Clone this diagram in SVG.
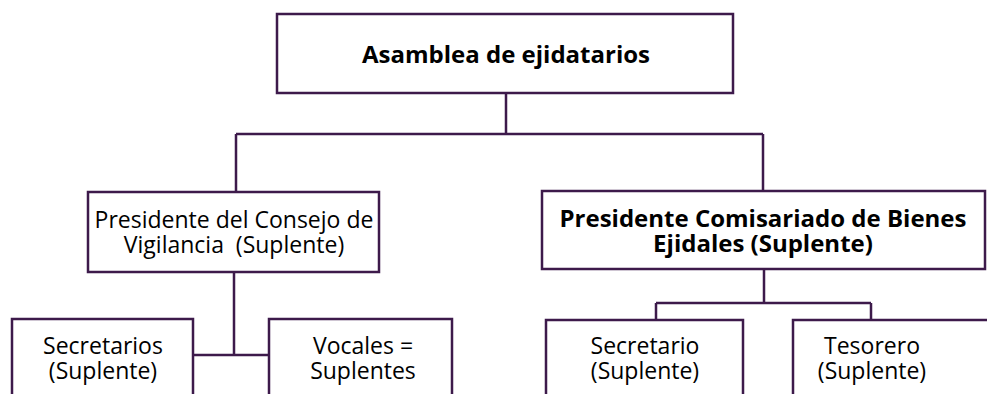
<svg xmlns="http://www.w3.org/2000/svg" width="987" height="394" viewBox="0 0 987 394">
<style>
.box{fill:#fff;stroke:#3d1a4b;stroke-width:2.5}
.ln{fill:none;stroke:#3d1a4b;stroke-width:2.5}
text{font-family:"Open Sans","Liberation Sans",sans-serif;fill:#000;text-anchor:middle;white-space:pre}
.r{font-size:23px}
.b{font-size:24px;font-weight:bold}
</style>
<rect width="987" height="394" fill="#fff"/>
<g id="connectors">
<path class="ln" d="M506,93V134M236,134H763M236,134V192M763,134V191"/>
<path class="ln" d="M234,272V355M193,355H269"/>
<path class="ln" d="M764,269V303M656,303H871M656,303V320M871,303V320"/>
</g>
<g id="asamblea">
<rect class="box" x="277" y="14" width="456" height="79"/>
<text class="b" x="506" y="63">Asamblea de ejidatarios</text>
</g>
<g id="consejo">
<rect class="box" x="88" y="192" width="291" height="80"/>
<text class="r" xml:space="preserve"><tspan x="234" y="228">Presidente del Consejo de</tspan><tspan x="234" y="253">Vigilancia  (Suplente)</tspan></text>
</g>
<g id="comisariado">
<rect class="box" x="542" y="191" width="443" height="78"/>
<text class="b"><tspan x="763" y="227">Presidente Comisariado de Bienes</tspan><tspan x="763" y="252">Ejidales (Suplente)</tspan></text>
</g>
<g id="secretarios">
<rect class="box" x="12" y="319" width="181" height="90"/>
<text class="r"><tspan x="103" y="354">Secretarios</tspan><tspan x="103" y="379">(Suplente)</tspan></text>
</g>
<g id="vocales">
<rect class="box" x="269" y="319" width="183" height="90"/>
<text class="r"><tspan x="363" y="354">Vocales =</tspan><tspan x="363" y="379">Suplentes</tspan></text>
</g>
<g id="secretario">
<rect class="box" x="546" y="320" width="197" height="90"/>
<text class="r"><tspan x="645" y="354">Secretario</tspan><tspan x="645" y="379">(Suplente)</tspan></text>
</g>
<g id="tesorero">
<rect class="box" x="793" y="320" width="220" height="90"/>
<text class="r"><tspan x="872" y="354">Tesorero</tspan><tspan x="872" y="379">(Suplente)</tspan></text>
</g>
</svg>
